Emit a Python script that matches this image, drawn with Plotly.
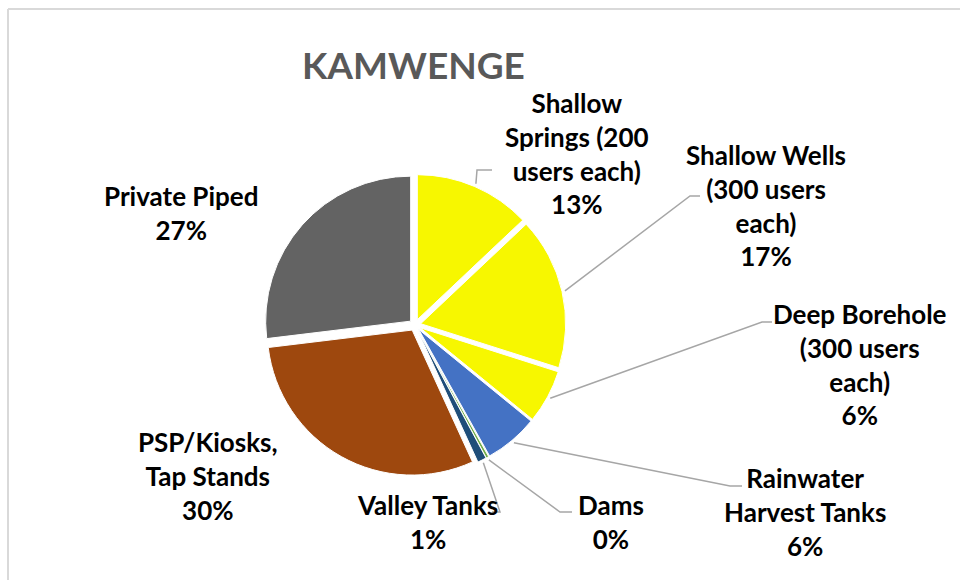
import math
import plotly.graph_objects as go

categories = [
    "Shallow<br>Springs (200<br>users each)",
    "Shallow Wells<br>(300 users<br>each)",
    "Deep Borehole<br>(300 users<br>each)",
    "Rainwater<br>Harvest Tanks",
    "Dams",
    "Valley Tanks",
    "PSP/Kiosks,<br>Tap Stands",
    "Private Piped",
]
shares = [13, 17, 6, 6, 0.3, 1, 30, 27]
colors = ["#F7F700", "#F7F700", "#F7F700", "#4472C4", "#70AD47", "#1F4E79", "#9E480E", "#636363"]

W, H = 960, 580
CX, CY, R = 415, 325, 145      # pie centre and radius, pixels
PULL = 0.04
HALF = R * (1 + PULL)

# label block centres (pixels) and leader elbow points (None = no leader)
label_pos = [(577, 153), (766, 206), (860, 364), (805, 512), (611, 522), (427, 522), (208, 476), (181, 213)]
elbows = [((477, 170), (492, 170)), ((690, 196), (700, 196)), ((762, 322), (772, 322)),
          ((730, 486), (742, 486)), ((560, 512), (572, 512)), ((500, 512), (492, 512)), None, None]

px = lambda x: x / W
py = lambda y: 1 - y / H

fig = go.Figure(go.Pie(
    labels=[c.replace("<br>", " ") for c in categories],
    values=shares,
    sort=False,
    direction="clockwise",
    rotation=0,
    pull=[PULL] * len(shares),
    marker=dict(colors=colors, line=dict(color="white", width=1)),
    textinfo="none",
    showlegend=False,
    hoverinfo="label+percent",
    domain=dict(x=[px(CX - HALF), px(CX + HALF)], y=[py(CY + HALF), py(CY - HALF)]),
))

total = sum(shares)
annotations = []
shapes = []
cum = 0
for name, v, pos, elb in zip(categories, shares, label_pos, elbows):
    pct = round(100 * v / total)
    annotations.append(dict(
        text=f"<b>{name}<br>{pct}%</b>", x=px(pos[0]), y=py(pos[1]),
        xref="paper", yref="paper", xanchor="center", yanchor="middle",
        showarrow=False, align="center",
        font=dict(family="Lato", size=26, color="#000000"),
    ))
    mid = (cum + v / 2) / total * 2 * math.pi
    cum += v
    if elb is not None:
        r0 = R * (1 + PULL) + 3
        sx, sy = CX + r0 * math.sin(mid), CY - r0 * math.cos(mid)
        (ex, ey), (hx, hy) = elb
        shapes.append(dict(
            type="path", xref="paper", yref="paper",
            path=f"M {px(sx)},{py(sy)} L {px(ex)},{py(ey)} L {px(hx)},{py(hy)}",
            line=dict(color="#A6A6A6", width=1.5),
        ))

annotations.append(dict(
    text="<b>KAMWENGE</b>", x=px(413), y=py(65), xref="paper", yref="paper",
    xanchor="center", yanchor="middle", showarrow=False,
    font=dict(family="Lato", size=37, color="#595959"),
))
shapes.append(dict(type="line", xref="paper", yref="paper", x0=px(8), x1=1, y0=py(9), y1=py(9),
                   line=dict(color="#D9D9D9", width=2)))
shapes.append(dict(type="line", xref="paper", yref="paper", x0=px(8), x1=px(8), y0=0, y1=py(9),
                   line=dict(color="#D9D9D9", width=2)))

fig.update_layout(
    width=W, height=H,
    margin=dict(l=0, r=0, t=0, b=0),
    paper_bgcolor="white",
    plot_bgcolor="white",
    annotations=annotations,
    shapes=shapes,
)

fig.write_html("out.html", config={"displayModeBar": False},
               post_script="document.body.style.margin='0';")
